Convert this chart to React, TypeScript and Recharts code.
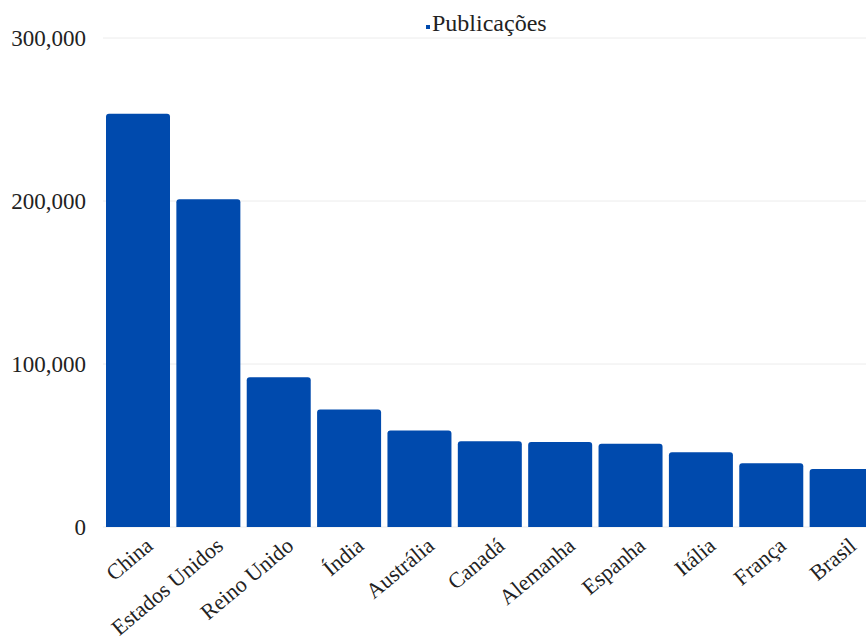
import { Bar, BarChart, CartesianGrid, Legend, XAxis, YAxis } from "recharts";

const SERIF = "'Liberation Serif', 'Times New Roman', serif";

const countries = [
  "China",
  "Estados Unidos",
  "Reino Unido",
  "Índia",
  "Austrália",
  "Canadá",
  "Alemanha",
  "Espanha",
  "Itália",
  "França",
  "Brasil",
];

const publications = [
  253500, 201100, 91800, 72100, 59200, 52600, 52200, 51000, 45900, 39100, 35600,
];

const yTicks = [0, 100000, 200000, 300000];

const data = countries.map((country, i) => ({
  country,
  publicacoes: publications[i],
}));

function thousands(value: number) {
  return new Intl.NumberFormat("en-US").format(value);
}

function CountryTick({ x, y, payload }: any) {
  const ax = x + 16;
  const ay = y + 13;
  return (
    <text
      x={ax}
      y={ay}
      transform={`rotate(-40, ${ax}, ${ay})`}
      textAnchor="end"
      fontSize={22}
      fontFamily={SERIF}
      fill="#222"
    >
      {payload.value}
    </text>
  );
}

export default function App() {
  return (
    <div
      style={{
        position: "absolute",
        left: 0,
        top: 0,
        width: 866,
        height: 642,
        overflow: "hidden",
        background: "#fff",
        fontFamily: SERIF,
      }}
    >
      <BarChart
        width={877}
        height={642}
        data={data}
        margin={{ top: 38, right: 0, bottom: 0, left: 7 }}
        barCategoryGap={3}
      >
        <CartesianGrid vertical={false} stroke="#ececec" />
        <XAxis
          dataKey="country"
          height={115}
          axisLine={false}
          tickLine={false}
          interval={0}
          tick={<CountryTick />}
        />
        <YAxis
          width={96}
          domain={[0, 300000]}
          ticks={yTicks}
          axisLine={false}
          tickLine={false}
          tickMargin={11}
          tickFormatter={thousands}
          tick={{ fontSize: 23, fill: "#222", fontFamily: SERIF }}
        />
        <Legend
          verticalAlign="middle"
          align="center"
          iconType="square"
          iconSize={4}
          wrapperStyle={{ top: 10, left: 426, width: "auto" }}
          formatter={(value) => (
            <span
              style={{
                color: "#222",
                fontSize: 24,
                fontFamily: SERIF,
                marginLeft: -2,
              }}
            >
              {value}
            </span>
          )}
        />
        <Bar
          dataKey="publicacoes"
          name="Publicações"
          fill="#004AAD"
          radius={[3, 3, 0, 0]}
          isAnimationActive={false}
        />
      </BarChart>
    </div>
  );
}
